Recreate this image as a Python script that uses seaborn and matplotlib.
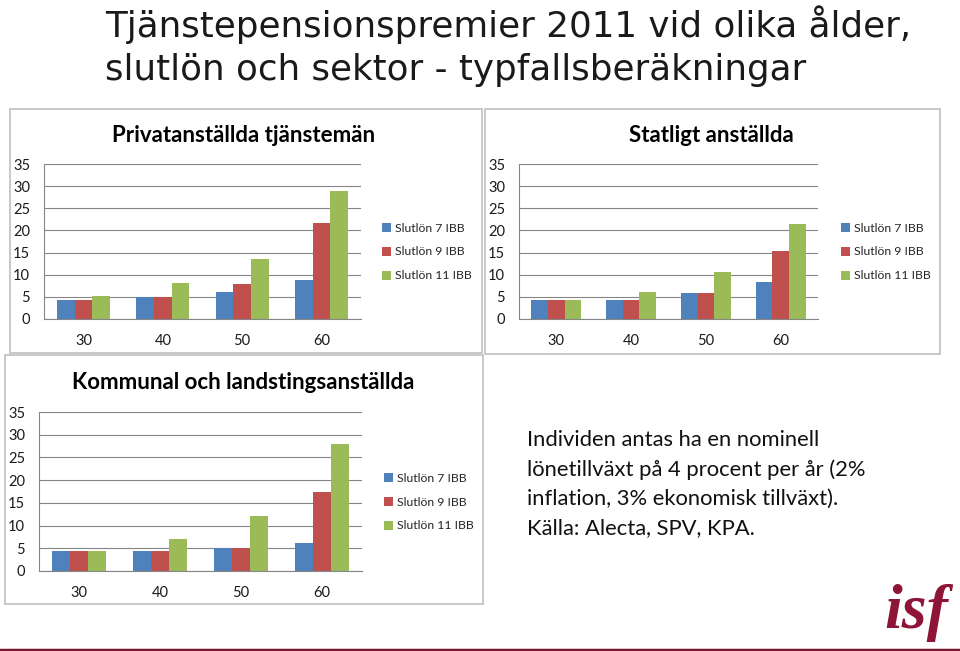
import numpy as np
import pandas as pd
import matplotlib
matplotlib.use("Agg")
import matplotlib.pyplot as plt
from matplotlib.patches import Rectangle, Patch
from matplotlib.lines import Line2D
import seaborn as sns

# ---- data ----
ages = ["30", "40", "50", "60"]
series = ["Slutlön 7 IBB", "Slutlön 9 IBB", "Slutlön 11 IBB"]

privat_7 = [4.4, 5.0, 6.0, 8.7]
privat_9 = [4.4, 5.0, 7.8, 21.7]
privat_11 = [5.3, 8.2, 13.6, 29.0]

statligt_7 = [4.4, 4.4, 5.8, 8.4]
statligt_9 = [4.4, 4.4, 5.8, 15.3]
statligt_11 = [4.4, 6.2, 10.7, 21.4]

kommunal_7 = [4.5, 4.5, 5.1, 6.1]
kommunal_9 = [4.5, 4.5, 5.1, 17.3]
kommunal_11 = [4.5, 7.0, 12.0, 28.0]

panel_titles = ["Privatanställda tjänstemän", "Statligt anställda",
                "Kommunal och landstingsanställda"]
yticks = [0, 5, 10, 15, 20, 25, 30, 35]

main_title = ["Tjänstepensionspremier 2011 vid olika ålder,",
              "slutlön och sektor - typfallsberäkningar"]
note_lines = ["Individen antas ha en nominell",
              "lönetillväxt på 4 procent per år (2%",
              "inflation, 3% ekonomisk tillväxt).",
              "Källa: Alecta, SPV, KPA."]

colors = ["#4F81BD", "#C0504D", "#9BBB59"]


def make_df(s7, s9, s11):
    rows = []
    for name, vals in zip(series, [s7, s9, s11]):
        for a, v in zip(ages, vals):
            rows.append({"age": a, "serie": name, "value": v})
    return pd.DataFrame(rows)


dfs = [make_df(privat_7, privat_9, privat_11),
       make_df(statligt_7, statligt_9, statligt_11),
       make_df(kommunal_7, kommunal_9, kommunal_11)]

sns.set_theme(style="white")
plt.rcParams["font.family"] = ["Lato", "DejaVu Sans"]

W, H = 960, 651
fig = plt.figure(figsize=(9.6, 6.51), dpi=100)


def fx(x):
    return x / W


def fy(y):
    return 1 - y / H


# panel frames (pixel coords: x0, y0, x1, y1)
boxes = [(10, 109, 482, 353), (485, 109, 940, 354), (5, 355, 483, 604)]
for (x0, y0, x1, y1) in boxes:
    fig.add_artist(Rectangle((fx(x0), fy(y1)), fx(x1 - x0), (y1 - y0) / H,
                             transform=fig.transFigure, fill=False,
                             edgecolor="#BFBFBF", linewidth=1.2))

# axes (plot area pixel coords)
areas = [(44, 164, 361, 319), (519, 164, 818, 319), (39, 412, 362, 571)]
title_pos = [(244, 135), (711, 135), (243, 382)]
legend_pos = [(382, 252), (841, 252), (384, 502)]

for i, (df, (x0, y0, x1, y1)) in enumerate(zip(dfs, areas)):
    ax = fig.add_axes([fx(x0), fy(y1), fx(x1 - x0), (y1 - y0) / H])
    sns.barplot(data=df, x="age", y="value", hue="serie", order=ages,
                hue_order=series, palette=colors, width=0.667, gap=0,
                ax=ax, legend=False, saturation=1, edgecolor="none")
    ax.set_xlim(-0.5, 3.5)
    ax.set_ylim(0, 35)
    ax.set_yticks(yticks)
    ax.set_yticklabels([str(t) for t in yticks])
    ax.set_xlabel("")
    ax.set_ylabel("")
    ax.grid(axis="y", color="#868686", linewidth=0.8)
    ax.set_axisbelow(True)
    for s in ["top", "right"]:
        ax.spines[s].set_visible(False)
    for s in ["left", "bottom"]:
        ax.spines[s].set_color("#868686")
        ax.spines[s].set_linewidth(0.8)
    ax.tick_params(axis="y", length=0, labelsize=10.5,
                   labelcolor="#1a1a1a", pad=10)
    ax.tick_params(axis="x", length=0, labelsize=10.5, labelcolor="#1a1a1a",
                   pad=11)
    tx, ty = title_pos[i]
    fig.text(fx(tx), fy(ty), panel_titles[i], ha="center", va="center",
             fontsize=16, fontweight="bold", color="black")
    handles = [Patch(facecolor=c, edgecolor="none") for c in colors]
    lx, ly = legend_pos[i]
    ax.legend(handles, series, loc="center left",
              bbox_to_anchor=(fx(lx), fy(ly)), bbox_transform=fig.transFigure,
              frameon=False, fontsize=8.8, handlelength=0.75,
              handleheight=0.75, handletextpad=0.3, labelspacing=1.05,
              borderaxespad=0, borderpad=0)

# main title
fig.text(fx(105), fy(37), main_title[0], ha="left", va="baseline",
         fontsize=25.7, family=["DejaVu Sans"], color="#1a1a1a")
fig.text(fx(105), fy(80), main_title[1], ha="left", va="baseline",
         fontsize=25.7, family=["DejaVu Sans"], color="#1a1a1a")

# note text
for k, line in enumerate(note_lines):
    fig.text(fx(527), fy(446 + 29.5 * k), line, ha="left", va="baseline",
             fontsize=15.8, color="#111111")

# logo
fig.text(fx(916), fy(628), "isf", ha="center", va="baseline", fontsize=46,
         family=["Liberation Serif"], style="italic", fontweight="bold",
         color="#8E1538")
fig.add_artist(Line2D([0, 1], [fy(649.5), fy(649.5)], transform=fig.transFigure,
                      color="#7B1230", linewidth=2.5))

fig.savefig("out.png", dpi=100, facecolor="white")
